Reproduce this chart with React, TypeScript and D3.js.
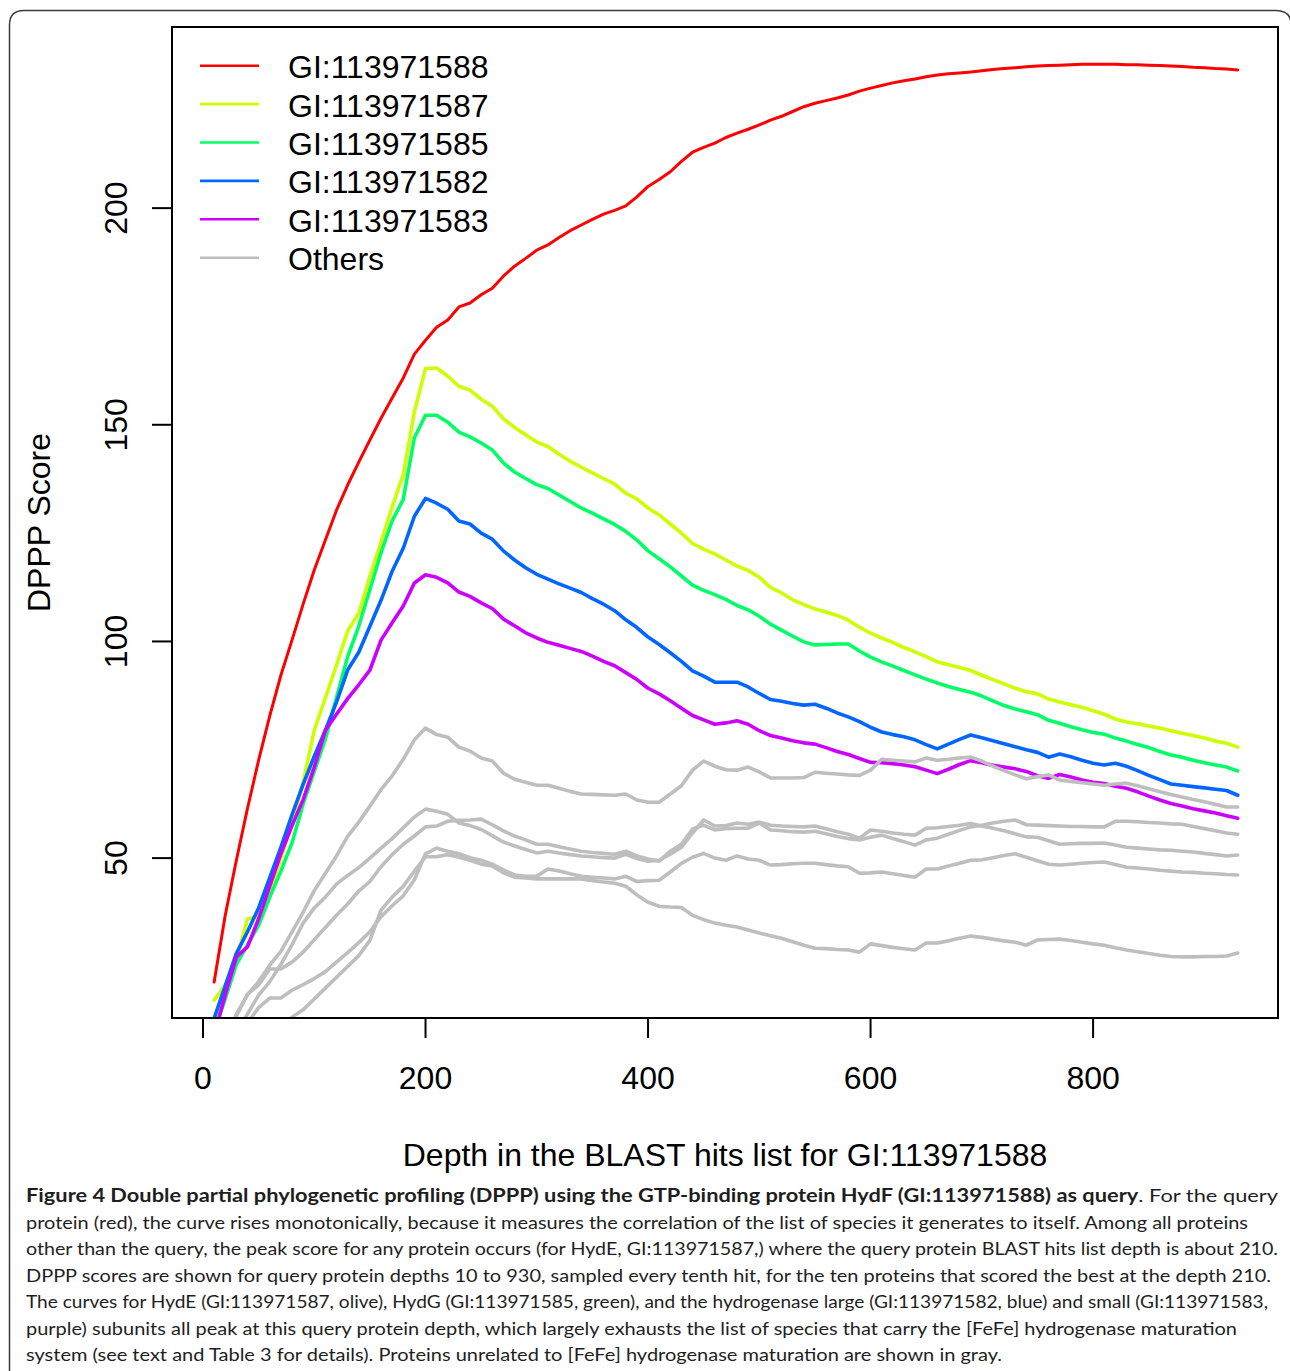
import React from 'react';
import * as d3 from 'd3';

// Depths in the BLAST hits list (sampled every tenth hit, 10..930)
const depths: number[] = d3.range(10, 931, 10);

const xTicks = [0, 200, 400, 600, 800];
const yTicks = [50, 100, 150, 200];

const legendLabels = ['GI:113971588', 'GI:113971587', 'GI:113971585', 'GI:113971582', 'GI:113971583', 'Others'];
const legendColors = ['#FF0000', '#CCFF00', '#00FF66', '#0066FF', '#CC00FF', '#BEBEBE'];

const red = [21.4, 36.8, 49.5, 61.5, 72.6, 82.8, 92.2, 100.3, 108.6, 116.5,
  123.4, 130.3, 136.1, 141.4, 146.5, 151.5, 156.2, 160.8, 166.3, 169.5,
  172.5, 174.2, 177.2, 178.1, 180, 181.5, 184.3, 186.6, 188.4, 190.3,
  191.5, 193.2, 194.8, 196.1, 197.4, 198.6, 199.5, 200.5, 202.6, 205,
  206.6, 208.4, 210.8, 212.9, 214, 215, 216.3, 217.3, 218.2, 219.2,
  220.3, 221.2, 222.3, 223.4, 224.2, 224.8, 225.4, 226.1, 227, 227.7,
  228.3, 228.9, 229.4, 229.8, 230.3, 230.7, 231, 231.2, 231.4, 231.7,
  232, 232.2, 232.4, 232.6, 232.8, 232.9, 233, 233.1, 233.2, 233.2,
  233.2, 233.2, 233.1, 233.1, 233, 232.9, 232.8, 232.7, 232.5, 232.4,
  232.2, 232.1, 231.9];

const olive = [17.2, 20.7, 26.5, 36, 36.5, 42, 50, 58, 67.5, 79.5,
  87, 94.5, 102.4, 106.5, 115, 123, 131, 138.5, 153, 163,
  163.1, 161.2, 158.9, 158, 155.9, 154.3, 151.4, 149.4, 147.7, 146,
  145, 143.2, 141.6, 140.2, 138.9, 137.6, 136.3, 134.2, 132.9, 130.8,
  129.2, 127.1, 125, 122.6, 121.3, 120.2, 118.8, 117.4, 116.4, 114.8,
  112.5, 111.2, 109.6, 108.5, 107.5, 106.8, 106, 104.9, 103.3, 101.9,
  100.8, 99.8, 98.6, 97.6, 96.5, 95.3, 94.6, 94, 93.3, 92.2,
  91.2, 90.2, 89.2, 88.4, 87.9, 86.7, 86, 85.4, 84.8, 84,
  83.2, 82.1, 81.4, 81, 80.5, 80, 79.4, 78.8, 78.3, 77.7,
  77, 76.5, 75.6];

const green = [10, 17.5, 25.5, 30, 34.5, 41, 47, 53.5, 62.5, 70,
  77.5, 87, 96.5, 103.5, 112, 120.5, 127.8, 132.8, 147, 152.2,
  152.2, 150.6, 148.3, 147.2, 145.8, 144.2, 141.2, 139.1, 137.6, 136.2,
  135.3, 133.8, 132.3, 130.8, 129.6, 128.3, 127, 125.4, 123.4, 120.9,
  119.1, 117.2, 115.1, 113, 111.8, 110.8, 109.7, 108.3, 107.3, 105.8,
  104, 102.6, 101.2, 99.9, 99.2, 99.3, 99.4, 99.4, 97.8, 96.4,
  95.3, 94.3, 93.3, 92.3, 91.3, 90.4, 89.6, 88.9, 88.3, 87.4,
  86.3, 85.2, 84.4, 83.8, 83.1, 81.8, 81.1, 80.3, 79.6, 79,
  78.6, 77.7, 77, 76.2, 75.5, 74.6, 73.8, 73.3, 72.6, 72,
  71.5, 71, 70.1];

const blue = [13, 20.5, 28, 33, 38.5, 45.5, 52.5, 60, 67, 73.5,
  79.5, 86, 93.4, 97.5, 103.5, 109.5, 116.2, 121.5, 128.9, 133,
  131.9, 130.5, 127.8, 127.1, 125, 123.6, 120.9, 118.8, 117, 115.5,
  114.4, 113.3, 112.3, 111.3, 109.9, 108.6, 107.1, 105, 103.2, 101,
  99.3, 97.4, 95.4, 93.2, 92, 90.6, 90.6, 90.6, 89.5, 88,
  86.6, 86.2, 85.7, 85.3, 85.5, 84.6, 83.5, 82.6, 81.5, 80.2,
  79.1, 78.5, 78, 77.3, 76.2, 75.2, 76.3, 77.4, 78.4, 77.8,
  77.1, 76.4, 75.7, 75, 74.4, 73.3, 74, 73.4, 72.6, 71.9,
  71.5, 71.9, 71.2, 70.2, 69.1, 68.1, 67.1, 66.8, 66.5, 66.2,
  65.9, 65.6, 64.5];

const purple = [9, 18.5, 27.2, 29.5, 36, 43.5, 51, 57.5, 63.5, 71,
  79.5, 83.2, 86.8, 90, 93.4, 100.3, 104.3, 108.2, 113.5, 115.4,
  114.8, 113.5, 111.4, 110.4, 108.9, 107.6, 105.2, 103.6, 102, 100.8,
  99.8, 99.1, 98.4, 97.7, 96.6, 95.4, 94.4, 92.8, 91.2, 89.2,
  87.9, 86.3, 84.6, 82.9, 81.9, 80.9, 81.2, 81.7, 80.9, 79.4,
  78.3, 77.7, 77.1, 76.6, 76.3, 75.5, 74.6, 73.9, 73, 72.1,
  72, 71.8, 71.5, 71.1, 70.3, 69.5, 70.5, 71.6, 72.5, 72,
  71.4, 71, 70.6, 70, 69, 68.4, 69.3, 68.7, 68, 67.5,
  67.2, 66.6, 66.1, 65.3, 64.3, 63.4, 62.6, 62, 61.4, 60.9,
  60.4, 59.8, 59.2];

const gray1 = [null, 8, 14, 18.5, 21.5, 25.3, 28.5, 33, 37.5, 42.5,
  46.5, 50.5, 55, 58.3, 62, 65.8, 69, 72.8, 77.3, 80,
  78.5, 77.9, 75.6, 74.7, 73.1, 72.4, 69.6, 68.2, 67.5, 66.8,
  66.8, 66.1, 65.4, 64.8, 64.7, 64.6, 64.5, 64.8, 63.4, 62.9,
  62.9, 64.8, 66.7, 70.3, 72.4, 71.2, 70.4, 70.3, 71, 69.9,
  68.5, 68.5, 68.5, 68.6, 69.8, 69.6, 69.4, 69.2, 69.1, 70.3,
  72.8, 72.6, 72.4, 72.2, 73.1, 72.6, 72.8, 73.1, 73.3, 72.4,
  71.2, 70.2, 69.2, 68.3, 68.8, 69.2, 68, 67.7, 67.4, 67.1,
  66.8, 67.1, 67.3, 66.7, 66, 65.3, 64.7, 64.1, 63.5, 63,
  62.4, 61.8, 61.8];

const gray2 = [null, 5, 10, 14, 18.4, 21.5, 25.5, 30, 35, 38.5,
  41, 44, 46, 47.8, 50, 52.3, 54.5, 57, 59.5, 61.3,
  60.8, 60.1, 58.1, 57.5, 56.6, 55.2, 53.7, 52.8, 52, 51.2,
  51.6, 51.2, 50.8, 50.5, 50.3, 50.1, 50, 50.9, 49.9, 49.3,
  49.5, 50.9, 52.5, 55.8, 58.8, 57.4, 57.5, 58.1, 57.8, 58.3,
  57.6, 57.4, 57.3, 57.2, 57.4, 56.8, 56.1, 55.5, 54.6, 56.5,
  56.2, 55.8, 55.5, 55.3, 56.9, 57, 57.3, 57.6, 58, 57.4,
  56.9, 56.3, 55.6, 54.9, 54.8, 54, 53.2, 53.3, 53.4, 53.4,
  53.5, 53, 52.5, 52.3, 52.1, 51.9, 51.8, 51.6, 51.4, 51.1,
  50.8, 50.5, 50.7];

const gray3 = [null, 8, 13.5, 18.6, 20.7, 24.4, 24.4, 26, 28.3, 31.2,
  34, 36.8, 39.4, 42.4, 44.6, 48, 50.8, 53.2, 55.1, 57.2,
  57.4, 58.5, 58.7, 58.8, 59, 57.7, 56.3, 55.1, 54.2, 53.2,
  53.2, 52.6, 52.1, 51.6, 51.3, 51.1, 50.9, 51.6, 50.5, 49.8,
  49.3, 51.6, 53.2, 56.7, 57.6, 56.5, 56.8, 56.9, 56.9, 58.1,
  56.5, 56.3, 56.1, 56, 56.2, 55.6, 55, 54.5, 54.2, 54.8,
  55.3, 54.5, 53.8, 53, 54.2, 54.6, 55.5, 56.4, 57.2, 57.6,
  58.1, 58.5, 58.8, 57.7, 57.6, 57.5, 57.4, 57.3, 57.3, 57.2,
  57.2, 58.5, 58.5, 58.4, 58.2, 58.1, 57.9, 57.8, 57.3, 56.8,
  56.3, 55.8, 55.5];

const gray4 = [null, 3, 7, 12, 15.5, 17.7, 17.7, 19.5, 20.8, 22.2,
  23.8, 26, 28.2, 30.5, 33, 36.5, 39, 41.3, 45, 51,
  52.3, 51.6, 51, 50.1, 49.5, 48.6, 47.3, 46.1, 45.8, 45.8,
  47.5, 47, 46.4, 45.8, 45.6, 45.4, 45.2, 45.8, 44.6, 44.8,
  44.9, 46.8, 48.8, 50.2, 51.1, 50, 49.5, 50.5, 49.8, 49.5,
  48.4, 48.5, 48.7, 48.8, 48.8, 48.5, 48.2, 48, 46.5, 46.6,
  46.8, 46.4, 46, 45.6, 47.5, 47.5, 48.2, 48.8, 49.5, 49.6,
  50.1, 50.6, 51, 50.2, 49.4, 48.6, 48.4, 48.6, 48.8, 49,
  49.1, 48.5, 47.9, 47.7, 47.5, 47.2, 47, 46.8, 46.7, 46.5,
  46.4, 46.2, 46.1];

const gray5 = [null, null, null, null, null, null, 10, 13.3, 15, 17.5,
  20, 22.5, 25, 27.5, 31, 38, 41, 43.5, 47, 50.3,
  50.3, 50.8, 50.2, 49.5, 48.6, 48.2, 46.6, 45.6, 45.4, 45.2,
  45.2, 45.2, 45.2, 45.2, 44.8, 44.5, 44.2, 43.5, 41.5, 39.8,
  38.9, 38.7, 38.6, 36.8, 35.8, 35, 34.5, 34.1, 33.4, 32.7,
  32.1, 31.5, 30.7, 29.9, 29.2, 29.1, 28.9, 28.8, 28.3, 30.2,
  29.8, 29.4, 29.1, 28.8, 30.4, 30.4, 30.9, 31.5, 32, 31.7,
  31.3, 30.9, 30.6, 29.9, 31.1, 31.2, 31.3, 31, 30.6, 30.2,
  29.9, 29.3, 28.8, 28.4, 28, 27.6, 27.3, 27.2, 27.2, 27.3,
  27.3, 27.4, 28.1];

const coloredSeries = [red, olive, green, blue, purple];
const graySeries = [gray1, gray2, gray3, gray4, gray5];

const captionBold = 'Figure 4 Double partial phylogenetic profiling (DPPP) using the GTP-binding protein HydF (GI:113971588) as query';
const captionLines = [
  '. For the query',
  'protein (red), the curve rises monotonically, because it measures the correlation of the list of species it generates to itself. Among all proteins',
  'other than the query, the peak score for any protein occurs (for HydE, GI:113971587,) where the query protein BLAST hits list depth is about 210.',
  'DPPP scores are shown for query protein depths 10 to 930, sampled every tenth hit, for the ten proteins that scored the best at the depth 210.',
  'The curves for HydE (GI:113971587, olive), HydG (GI:113971585, green), and the hydrogenase large (GI:113971582, blue) and small (GI:113971583,',
  'purple) subunits all peak at this query protein depth, which largely exhausts the list of species that carry the [FeFe] hydrogenase maturation',
  'system (see text and Table 3 for details). Proteins unrelated to [FeFe] hydrogenase maturation are shown in gray.',
];
const captionEnds = [1278, 1248, 1278, 1271, 1268, 1237, 1002];

export default function App() {
  const W = 1290, H = 1371;
  const left = 172, right = 1278, top = 27, bottom = 1018;
  const x = d3.scaleLinear().domain([-27.86, 966.2]).range([left, right]);
  const y = d3.scaleLinear().domain([13.1, 241.8]).range([bottom, top]);
  const line = d3.line<[number, number | null]>()
    .defined(d => d[1] != null)
    .x(d => x(d[0]))
    .y(d => y(d[1] as number));
  const pts = (s: (number | null)[]) => depths.map((d, i) => [d, s[i]] as [number, number | null]);
  const font = "'Liberation Sans', Arial, sans-serif";
  const capFont = "Lato, 'Open Sans', sans-serif";
  const capX = 26;
  const capBase = 1202;
  const capStep = 26.5;

  return (
    <svg width={W} height={H} viewBox={`0 0 ${W} ${H}`}
      style={{ position: 'absolute', left: 0, top: 0, background: '#fff' }}>
      <rect x={0} y={0} width={W} height={H} fill="#fff" />
      {/* outer frame */}
      <path d={`M 9.5 ${H + 20} V 25 Q 9.5 10.5 24 10.5 H 1276 Q 1291 10.5 1291 25 V ${H + 20}`}
        fill="none" stroke="#3a3a3a" strokeWidth={1.5} />
      <defs>
        <clipPath id="plotClip">
          <rect x={left} y={top} width={right - left} height={bottom - top} />
        </clipPath>
      </defs>
      <g clipPath="url(#plotClip)" fill="none" strokeLinejoin="round" strokeLinecap="round">
        {coloredSeries.map((s, i) => (
          <path key={'c' + i} d={line(pts(s)) || ''} stroke={legendColors[i]}
            strokeWidth={i === 0 ? 3 : 3.6} />
        ))}
        {graySeries.map((s, i) => (
          <path key={'g' + i} d={line(pts(s)) || ''} stroke={legendColors[5]} strokeWidth={3.6} />
        ))}
      </g>
      {/* plot box */}
      <rect x={left} y={top} width={right - left} height={bottom - top} fill="none" stroke="#000" strokeWidth={2} />
      {/* axes */}
      <g fontFamily={font} fontSize={32} fill="#000">
        {xTicks.map(t => (
          <g key={'x' + t}>
            <line x1={x(t)} x2={x(t)} y1={bottom} y2={bottom + 20} stroke="#000" strokeWidth={2} />
            <text x={x(t)} y={1089} textAnchor="middle">{t}</text>
          </g>
        ))}
        {yTicks.map(t => (
          <g key={'y' + t}>
            <line x1={left - 20} x2={left} y1={y(t)} y2={y(t)} stroke="#000" strokeWidth={2} />
            <text transform={`translate(127,${y(t)}) rotate(-90)`} textAnchor="middle">{t}</text>
          </g>
        ))}
        <text x={(left + right) / 2} y={1166} textAnchor="middle">Depth in the BLAST hits list for GI:113971588</text>
        <text transform={`translate(50,${(top + bottom) / 2}) rotate(-90)`} textAnchor="middle">DPPP Score</text>
      </g>
      {/* legend */}
      <g fontFamily={font} fontSize={32} fill="#000">
        {legendLabels.map((lab, i) => {
          const ly = 65.7 + i * 38.4;
          return (
            <g key={'l' + i}>
              <line x1={200} x2={259} y1={ly} y2={ly} stroke={legendColors[i]} strokeWidth={2.6} />
              <text x={288} y={ly + 12.5}>{lab}</text>
            </g>
          );
        })}
      </g>
      {/* caption */}
      <g fontFamily={capFont} fontSize={18} fill="#1e1e1e">
        {captionLines.map((t, i) => (
          <text key={'cap' + i} x={capX} y={capBase + i * capStep}
            textLength={captionEnds[i] - capX} lengthAdjust="spacingAndGlyphs">
            {i === 0 ? (
              <>
                <tspan fontWeight="bold">{captionBold}</tspan>
                <tspan>{t}</tspan>
              </>
            ) : t}
          </text>
        ))}
      </g>
    </svg>
  );
}
